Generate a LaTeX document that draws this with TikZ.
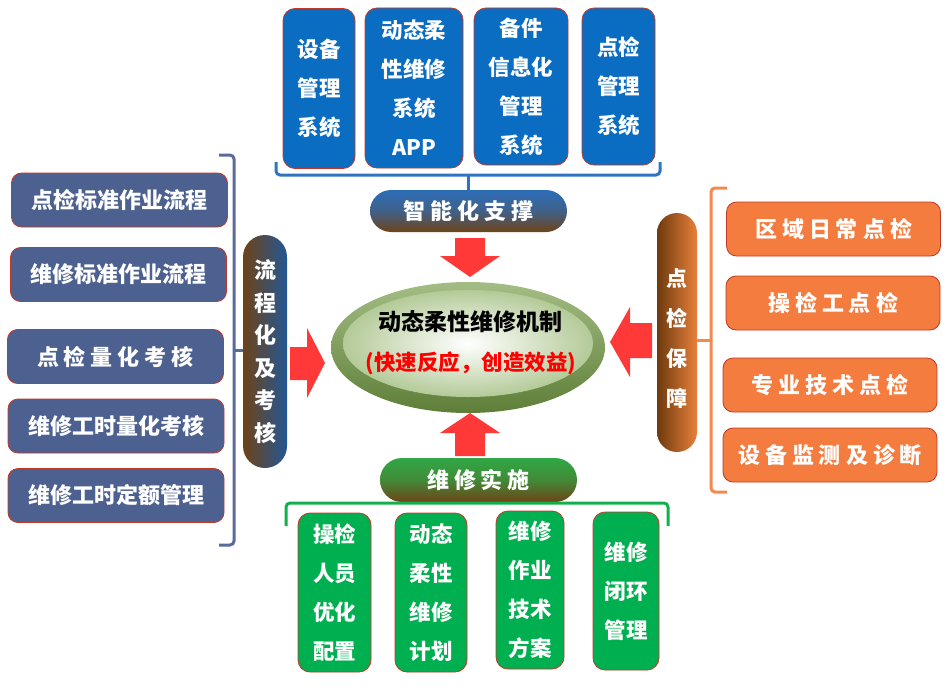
\documentclass[tikz,border=0pt]{standalone}
\usepackage{fontspec}
\setmainfont{Noto Sans CJK SC}
\usetikzlibrary{shapes.geometric}
\definecolor{topblue}{HTML}{0A6DC2}
\definecolor{leftslate}{HTML}{4D6191}
\definecolor{rorange}{HTML}{F47C3E}
\definecolor{bgreen}{HTML}{00B050}
\definecolor{bordred}{HTML}{C0392B}
\definecolor{arrred}{HTML}{FF3838}
\definecolor{brblue}{HTML}{2F74C0}
\definecolor{brslate}{HTML}{5B6A99}
\definecolor{brorange}{HTML}{F28A50}
\definecolor{brgreen}{HTML}{12B04A}
\definecolor{pblue}{HTML}{2C6DB8}
\definecolor{pbrown}{HTML}{6E4318}
\definecolor{pdbrown}{HTML}{6E3A0E}
\definecolor{porange}{HTML}{E8803A}
\definecolor{pgreen}{HTML}{2FA845}
\definecolor{eotop}{HTML}{A3BD84}
\definecolor{eobot}{HTML}{5E7E38}
\definecolor{eiout}{HTML}{B4CA98}
\newcommand{\mygap}{\kern5pt\relax}
\begin{document}
\begin{tikzpicture}[x=1pt,y=-1pt,
  box/.style={draw=bordred, line width=0.8pt, inner sep=0pt, text=white, align=center},
  topbox/.style={box, fill=topblue, rounded corners=12pt, font=\bfseries\fontsize{21.5}{39}\selectfont},
  leftbox/.style={box, fill=leftslate, rounded corners=10pt, minimum width=216pt, minimum height=54pt, font=\bfseries\fontsize{22}{26}\selectfont},
  rightbox/.style={box, fill=rorange, rounded corners=10pt, minimum width=214pt, minimum height=54pt, font=\bfseries\fontsize{22}{26}\selectfont},
  botbox/.style={box, fill=bgreen, rounded corners=12pt, font=\bfseries\fontsize{21.5}{39}\selectfont},
  pill/.style={inner sep=0pt, text=white, align=center, font=\bfseries\fontsize{22}{26}\selectfont},
  brk/.style={line width=3pt, rounded corners=4pt},
  arr/.style={fill=arrred}
]
\useasboundingbox (0,0) rectangle (949,690);

% ---- top group ----
\node[topbox, minimum width=72pt, minimum height=160pt] (t1) at (319,88.5) {设备\\管理\\系统};
\node[topbox, minimum width=98pt, minimum height=160pt] (t2) at (414,88) {动态柔\\性维修\\系统\\APP};
\node[topbox, minimum width=94pt, minimum height=157pt] (t3) at (521,86.5) {备件\\信息化\\管理\\系统};
\node[topbox, minimum width=73pt, minimum height=157pt] (t4) at (618.5,86.5) {点检\\管理\\系统};
\draw[brk, brblue] (276,162) -- (276,175) -- (660,175) -- (660,162);
\node[pill, minimum width=197pt, minimum height=42pt, rounded corners=21pt, top color=pblue, bottom color=pbrown, middle color=pblue!70!pbrown] (tp) at (468.5,211) {智\mygap 能\mygap 化\mygap 支\mygap 撑};
\draw[line width=3pt, brblue] (tp.north) -- (tp.north |- 0,175);

% ---- left group ----
\node[leftbox] (l1) at (119.5,200) {点检标准作业流程};
\node[leftbox] (l2) at (118.5,274.5) {维修标准作业流程};
\node[leftbox] (l3) at (115.5,356.5) {点\mygap 检\mygap 量\mygap 化\mygap 考\mygap 核};
\node[leftbox] (l4) at (116,426) {维修工时量化考核};
\node[leftbox] (l5) at (116,495.5) {维修工时定额管理};
\draw[brk, brslate] (219,155) -- (234,155) -- (234,545) -- (219,545);
\node[pill, minimum width=44pt, minimum height=233pt, rounded corners=22pt, left color=pbrown, right color=pblue!80!black, font=\bfseries\fontsize{22}{32.5}\selectfont] (lp) at (265,351.5) {流\\程\\化\\及\\考\\核};
\draw[line width=3pt, brslate] (234,350) -- (lp.west |- 0,350);

% ---- right group ----
\node[rightbox] (r1) at (833.5,229) {区\mygap 域\mygap 日\mygap 常\mygap 点\mygap 检};
\node[rightbox] (r2) at (833,303) {操\mygap 检\mygap 工\mygap 点\mygap 检};
\node[rightbox] (r3) at (830,385) {专\mygap 业\mygap 技\mygap 术\mygap 点\mygap 检};
\node[rightbox] (r4) at (830,455) {设\mygap 备\mygap 监\mygap 测\mygap 及\mygap 诊\mygap 断};
\draw[brk, brorange] (727,188) -- (711,188) -- (711,492) -- (727,492);
\node[minimum width=40pt, minimum height=239pt, rounded corners=20pt, inner sep=0pt, left color=pdbrown, right color=porange] (rp) at (677,332.5) {};
\node[pill, font=\bfseries\fontsize{21}{40}\selectfont] (rpt) at (677,339) {点\\检\\保\\障};
\draw[line width=3pt, brorange] (711,340) -- (rp.east |- 0,340);

% ---- bottom group ----
\node[pill, minimum width=197pt, minimum height=44pt, rounded corners=22pt, top color=pgreen, bottom color=pbrown, middle color=pgreen!70!pbrown] (bp) at (478.5,480) {维\mygap 修\mygap 实\mygap 施};
\draw[brk, brgreen] (286,526) -- (286,503) -- (668,503) -- (668,526);
\node[botbox, minimum width=73pt, minimum height=159pt] (b1) at (334.5,592.5) {操检\\人员\\优化\\配置};
\node[botbox, minimum width=72pt, minimum height=159pt] (b2) at (431,592.5) {动态\\柔性\\维修\\计划};
\node[botbox, minimum width=68pt, minimum height=158pt] (b3) at (530,590) {维修\\作业\\技术\\方案};
\node[botbox, minimum width=66pt, minimum height=158pt] (b4) at (626,591) {维修\\闭环\\管理};

% ---- centre ellipse ----
\node[ellipse, minimum width=274pt, minimum height=131pt, inner sep=0pt, top color=eotop, bottom color=eobot] (eo) at (468,347.5) {};
\node[ellipse, minimum width=250pt, minimum height=107pt, inner sep=0pt, inner color=white, outer color=eiout, shading=radial] (ei) at (468,343.5) {};
\node[font=\bfseries\fontsize{23}{26}\selectfont, text=black] (title) at (470,322) {动态柔性维修机制};
\node[font=\bfseries\fontsize{21.5}{26}\selectfont, text=red] (sub) at (471,363) {(快速反应，创造效益)};

% ---- red block arrows ----
\fill[arr] (455,238) -- (485,238) -- (485,256) -- (500,256) -- (470,277) -- (440,256) -- (455,256) -- cycle;
\fill[arr] (455,456) -- (485,456) -- (485,433) -- (500,433) -- (470,413) -- (440,433) -- (455,433) -- cycle;
\fill[arr] (290,347) -- (307,347) -- (307,328) -- (325,363) -- (307,398) -- (307,380) -- (290,380) -- cycle;
\fill[arr] (652,323) -- (630,323) -- (630,307) -- (610,342) -- (630,377) -- (630,358) -- (652,358) -- cycle;
\end{tikzpicture}
\end{document}
